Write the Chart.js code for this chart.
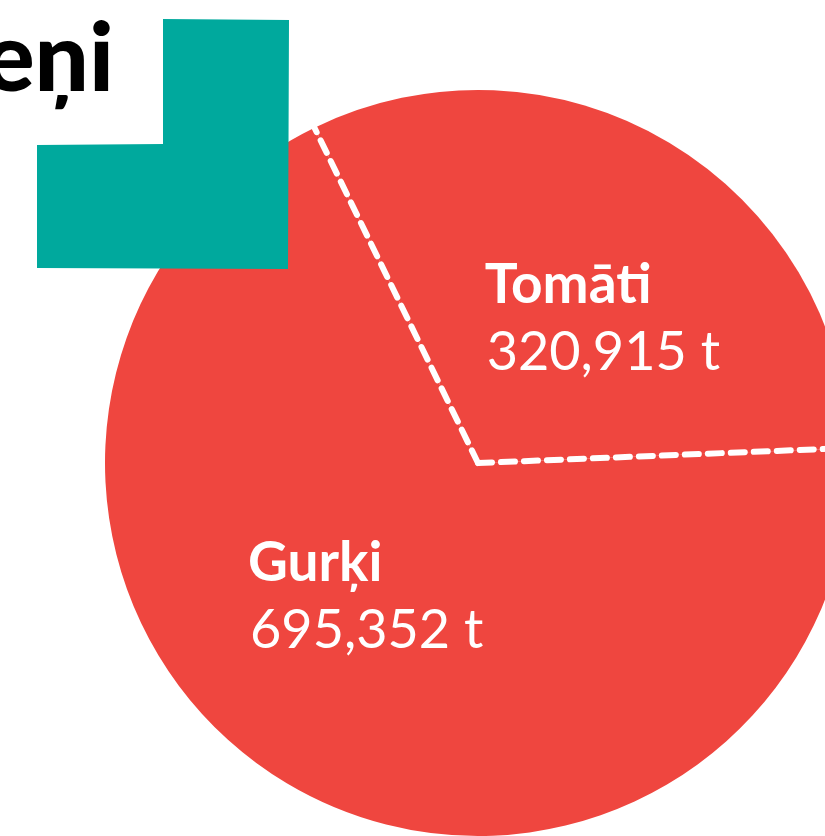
<!DOCTYPE html>
<html>
<head>
<meta charset="utf-8">
<script src="https://cdn.jsdelivr.net/npm/chart.js@4.4.1/dist/chart.umd.min.js"></script>
<style>
  html, body { margin: 0; padding: 0; width: 825px; height: 836px; overflow: hidden; background: #fff; }
  #wrap { position: absolute; left: 0; top: 0; width: 860px; height: 846px; }
</style>
</head>
<body>
<div id="wrap"><canvas id="pieChart" width="860" height="846"></canvas></div>
<script>
const categories = ['Tomāti', 'Gurķi'];
const tonnes = [320915, 695352];
const titleText = 'Dārzeņi';

const RED = '#ef463f';
const TEAL = '#00a99d';

// white dashed lines along each slice edge
const dashedEdges = {
    id: 'dashedEdges',
    afterDatasetsDraw(chart) {
        const ctx = chart.ctx;
        const arcs = chart.getDatasetMeta(0).data;
        ctx.save();
        ctx.strokeStyle = '#fff';
        ctx.lineWidth = 6;
        ctx.lineCap = 'round';
        ctx.setLineDash([14, 9]);
        arcs.forEach(arc => {
            const { x, y, startAngle, outerRadius } = arc.getProps(['x', 'y', 'startAngle', 'outerRadius'], true);
            ctx.beginPath();
            ctx.moveTo(x, y);
            ctx.lineTo(x + outerRadius * Math.cos(startAngle), y + outerRadius * Math.sin(startAngle));
            ctx.stroke();
        });
        ctx.restore();
    }
};

// name + value inside each slice
const sliceLabels = {
    id: 'sliceLabels',
    afterDatasetsDraw(chart) {
        const ctx = chart.ctx;
        const arcs = chart.getDatasetMeta(0).data;
        const nameFont = 'bold 55px Lato';
        const valueFont = '54px Lato';
        ctx.save();
        ctx.fillStyle = '#fff';
        ctx.textBaseline = 'alphabetic';
        ctx.textAlign = 'left';
        arcs.forEach((arc, i) => {
            const { x, y, startAngle, endAngle, outerRadius } = arc.getProps(['x', 'y', 'startAngle', 'endAngle', 'outerRadius'], true);
            const mid = (startAngle + endAngle) / 2 + 9.5 * Math.PI / 180;
            const px = x + outerRadius * 0.49 * Math.cos(mid) + 5;
            const py = y + outerRadius * 0.49 * Math.sin(mid);
            const name = categories[i];
            const value = tonnes[i].toLocaleString('en-US') + ' t';
            ctx.font = nameFont;
            const w1 = ctx.measureText(name).width;
            ctx.font = valueFont;
            const w2 = ctx.measureText(value).width;
            const left = px - Math.max(w1, w2) / 2;
            ctx.font = nameFont;
            ctx.fillText(name, left, py - 21);
            ctx.font = valueFont;
            ctx.fillText(value, left + 2, py + 46);
        });
        ctx.restore();
    }
};

// teal corner block and the cut-off title
const decor = {
    id: 'decor',
    afterDraw(chart) {
        const ctx = chart.ctx;
        ctx.save();
        ctx.fillStyle = TEAL;
        ctx.beginPath();
        ctx.moveTo(163, 19);
        ctx.lineTo(289, 20);
        ctx.lineTo(288, 269);
        ctx.lineTo(37, 268);
        ctx.lineTo(37, 145);
        ctx.lineTo(163, 144);
        ctx.closePath();
        ctx.fill();
        ctx.fillStyle = '#000';
        ctx.font = '900 96px Lato';
        ctx.textAlign = 'right';
        ctx.textBaseline = 'alphabetic';
        ctx.fillText(titleText, 114, 91);
        ctx.restore();
    }
};

new Chart(document.getElementById('pieChart'), {
    type: 'pie',
    data: {
        labels: categories,
        datasets: [{
            data: tonnes,
            backgroundColor: [RED, RED],
            borderWidth: 0
        }]
    },
    options: {
        responsive: false,
        animation: false,
        rotation: 334,
        layout: { padding: { left: 105, top: 90, right: 9, bottom: 10 } },
        plugins: {
            legend: { display: false },
            tooltip: { enabled: false },
            title: { display: false }
        }
    },
    plugins: [dashedEdges, sliceLabels, decor]
});
</script>
</body>
</html>
